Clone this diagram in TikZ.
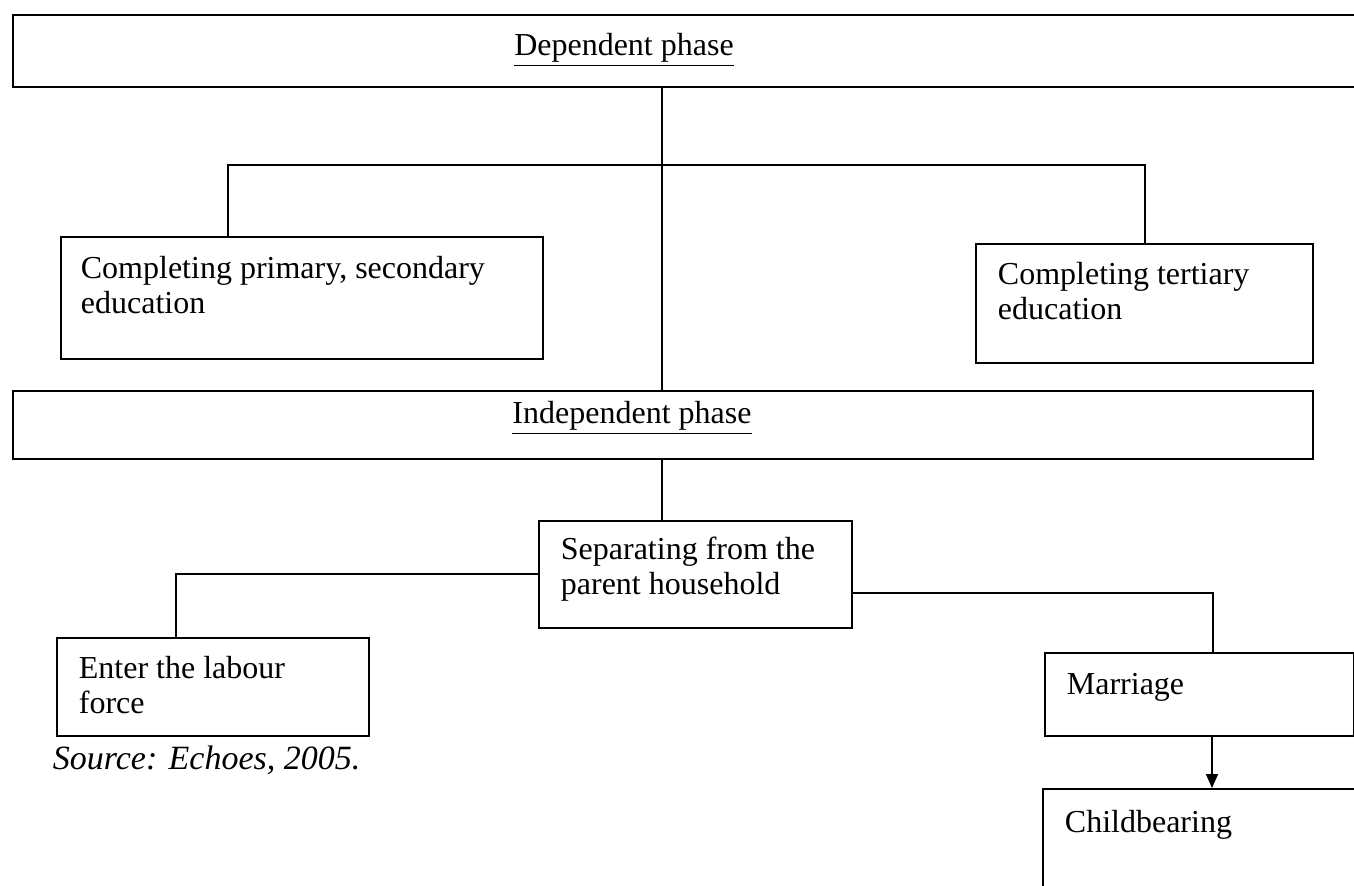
\documentclass[tikz,border=0pt]{standalone}
\usepackage{fontspec}
\setmainfont{Liberation Serif}
\usetikzlibrary{arrows.meta,positioning}

\tikzset{
  box/.style={draw,rectangle,anchor=north west,inner sep=0pt},
  lbl/.style={inner sep=0pt,align=left,anchor=north west,font=\fontsize{16}{17.5}\selectfont},
  arr/.style={-{Triangle[length=7pt,width=6pt]}},
}

\begin{document}
\begin{tikzpicture}[x=0.5pt,y=-0.5pt,line width=0.9pt]
\clip (0,0) rectangle (1354,886);
% phases
\node[box,minimum width=675pt,minimum height=36pt] (dep) at (12,14) {};
\node[lbl,anchor=center] (deptxt) at (624,50) {\underline{Dependent phase}};
\node[box,minimum width=650pt,minimum height=34pt] (ind) at (12,390) {};
\node[lbl,anchor=center] (indtxt) at (632,418) {\underline{Independent phase}};
% education
\node[box,minimum width=241pt,minimum height=61pt] (pri) at (60,236) {};
\node[lbl,below right=9.5pt and 10pt of pri.north west] (pritxt) {Completing primary, secondary\\education};
\node[box,minimum width=168.5pt,minimum height=59.5pt] (ter) at (975,243) {};
\node[lbl,below right=9pt and 11pt of ter.north west] (tertxt) {Completing tertiary\\education};
% after leaving
\node[box,minimum width=156.5pt,minimum height=53.5pt] (sep) at (538,520) {};
\node[lbl,below right=8pt and 11pt of sep.north west] (septxt) {Separating from the\\parent household};
\node[box,minimum width=156pt,minimum height=49pt] (lab) at (56,637) {};
\node[lbl,below right=9pt and 11pt of lab.north west] (labtxt) {Enter the labour\\force};
\node[lbl,font=\fontsize{17}{18}\selectfont\itshape,below right=4pt and -2pt of lab.south west] (src) {Source: Echoes, 2005.};
\node[box,minimum width=154.5pt,minimum height=41.5pt] (mar) at (1044,652) {};
\node[lbl,below right=10pt and 11pt of mar.north west] (martxt) {Marriage};
\node[box,minimum width=159pt,minimum height=56pt] (chi) at (1042,788) {};
\node[lbl,below right=10.5pt and 11pt of chi.north west] (chitxt) {Childbearing};

% connectors
\coordinate (trunk) at (662,0);
\coordinate (barL) at (228,165);
\coordinate (barR) at (1145,165);
\draw (dep.south -| trunk) -- (ind.north -| trunk);
\draw (pri.north -| barL) -- (barL) -- (barR) -- (ter.north -| barR);
\draw (ind.south -| trunk) -- (sep.north -| trunk);
\draw (sep.west) -| ([xshift=60pt]lab.north west);
\draw ([yshift=-9.25pt]sep.east) -| ([xshift=84.5pt]mar.north west);
\draw[arr] ([xshift=84pt]mar.south west) -- ([xshift=85pt]chi.north west);
\end{tikzpicture}
\end{document}
